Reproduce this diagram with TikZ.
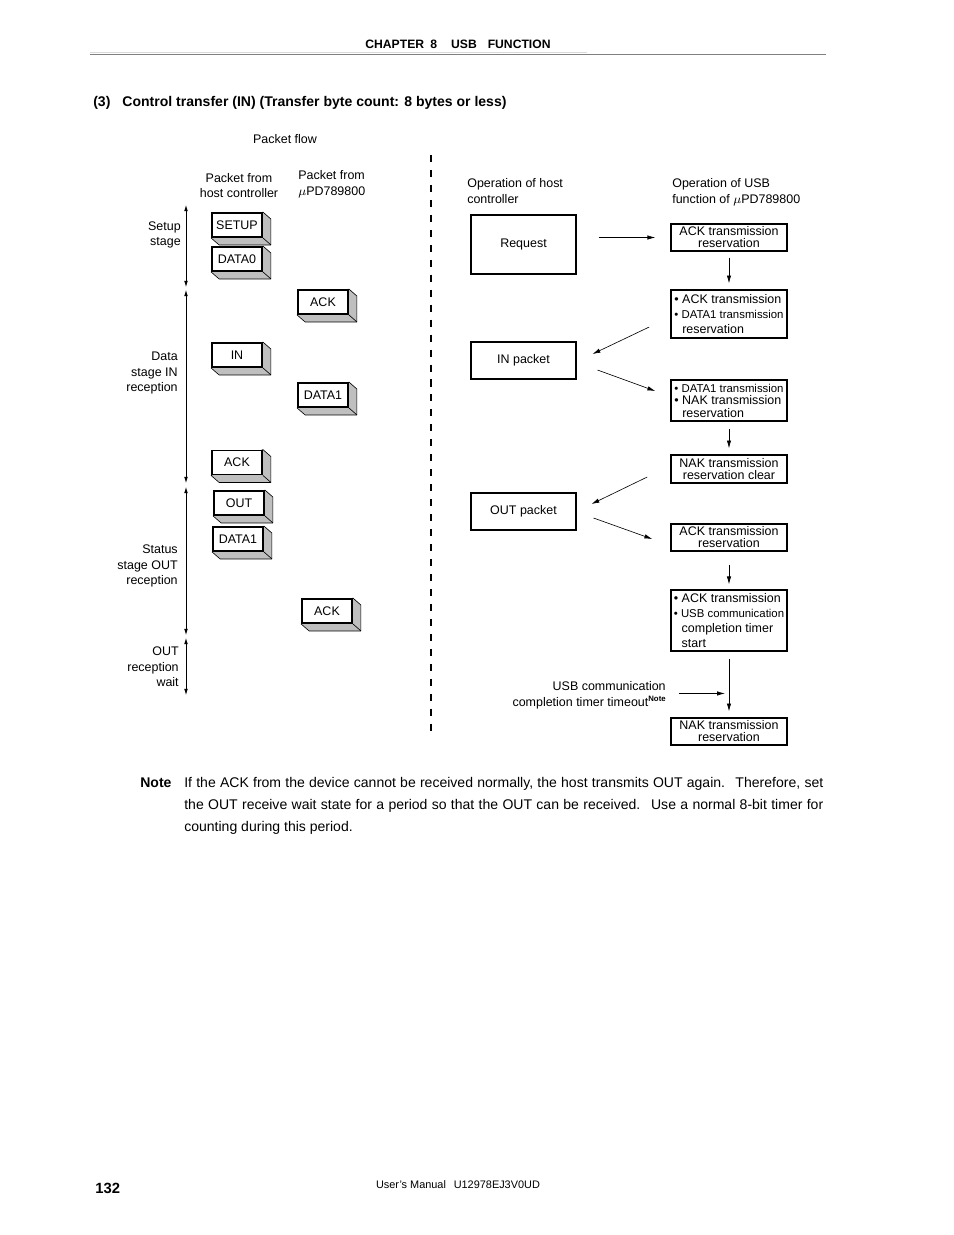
\documentclass[tikz,border=0pt]{standalone}
\usepackage{fontspec}
\setmainfont{Liberation Sans}
\usetikzlibrary{calc,arrows.meta}
\pgfdeclarelayer{background layer}
\pgfsetlayers{background layer,main}
\def\upx{0.6415pt}

\begin{document}
\begin{tikzpicture}[x=\upx,y=-\upx,
    flow/.style={-{Latex[length=5pt,width=2.8pt]},thin},
    stage/.style={{Latex[length=4pt,width=2.4pt]}-{Latex[length=4pt,width=2.4pt]},thin},
    txt/.style={font=\fontsize{8}{10}\selectfont,inner sep=0pt},
    pkt/.style={rectangle,draw=black,fill=white,line width=1.2pt,minimum width=50*\upx,minimum height=24*\upx,inner sep=0pt,font=\fontsize{8}{10}\selectfont},
    side/.style={draw=black,fill=lightgray,thin,line join=round},
    host/.style={rectangle,draw=black,line width=0.7pt,minimum width=105*\upx,inner sep=0pt,font=\fontsize{8}{10}\selectfont},
    dev/.style={rectangle,draw=black,line width=1pt,minimum width=116*\upx,inner sep=0pt,align=center,font=\fontsize{8}{7.7}\selectfont},
    bul/.style={dev,align=left,font=\fontsize{8}{9.6}\selectfont},
    divider/.style={line width=0.7pt,dash pattern=on 4.5pt off 5.1pt},
    note/.style={font=\fontsize{9}{11}\selectfont,inner sep=0pt,anchor=base west},
]
\useasboundingbox (0,0) rectangle (954,1235);

% page head
\node[font=\bfseries\fontsize{7.8}{9}\selectfont,inner sep=0pt,anchor=base] (chap) at (458,48) {CHAPTER\hspace{4pt}8\hspace{9pt}USB\hspace{7pt}FUNCTION};
\draw[gray!30,line width=1pt] (90,52.5) -- (587,52.5);
\draw[gray,line width=0.5pt] (90,54) -- (826,54);
\node[font=\bfseries\fontsize{9}{11}\selectfont,inner sep=0pt,anchor=base west] (title) at (93,106.5) {(3)\hspace{7.7pt}Control transfer (IN) (Transfer byte count: 8 bytes or less)};

% column heads
\node[txt] (flowhd) at (285,139.5) {Packet flow};
\node[txt,align=center] (hosthd) at (239,185.5) {Packet from\\host controller};
\node[txt,align=left,anchor=west] (devhd) at (298,184) {Packet from\\$\mu$PD789800};
\node[txt,align=left,anchor=west] (ophost) at (467,191) {Operation of host\\controller};
\node[txt,align=left,anchor=west] (opdev) at (672,192) {Operation of USB\\function of $\mu$PD789800};

% stages
\node[txt,align=right,anchor=east] (lsetup) at (181,235) {Setup\\stage};
\node[txt,align=right,anchor=east] (ldata) at (178,373) {Data\\stage IN\\reception};
\node[txt,align=right,anchor=east] (lstatus) at (178,566) {Status\\stage OUT\\reception};
\node[txt,align=right,anchor=east] (lwait) at (179,667) {OUT\\reception\\wait};
\coordinate (st0) at (186,205);
\coordinate (st1) at (186,287);
\coordinate (st2) at (186,290);
\coordinate (st3) at (186,483);
\coordinate (st4) at (186,487);
\coordinate (st5) at (186,635);
\coordinate (st6) at (186,638);
\coordinate (st7) at (186,695);
\foreach \a/\b in {st0/st1,st2/st3,st4/st5,st6/st7}
    \draw[stage] (\a) -- (\b);

% packets
\foreach \nm/\xx/\yy/\lb in {setup/237/225/SETUP, data0/237/259/DATA0, ackd1/323/302/ACK,
    inpk/237/355/IN, data1d/323/395/DATA1, ackh/237/462.5/ACK, outpk/239/503/OUT,
    data1h/238/539/DATA1, ackd2/327/611/ACK}{
    \node[pkt] (\nm) at (\xx,\yy) {\lb};
    \begin{pgfonlayer}{background layer}
        \draw[side] (\nm.north east) -- ++(8,7) -- ($(\nm.south east)+(8,7)$) -- ($(\nm.south west)+(8,7)$) -- (\nm.south west) -- cycle;
        \draw[thin] (\nm.south east) -- ++(8,7);
    \end{pgfonlayer}
}

% divider
\coordinate (dtop) at (431,155);
\coordinate (dbot) at (431,736);
\draw[divider] (dtop) -- (dbot);

% host controller
\node[host,minimum height=59*\upx] (req) at (523.5,244.5) {Request};
\node[host,minimum height=37*\upx] (inp) at (523.5,360.5) {IN packet};
\node[host,minimum height=37*\upx] (outp) at (523.5,511.5) {OUT packet};

% USB function
\node[dev,minimum height=27*\upx] (ackres) at (729,237.5) {ACK transmission\\reservation};
\node[bul,minimum height=48*\upx] (ackdata) at (729,314) {• ACK transmission\\{\fontsize{7.3}{9.6}\selectfont • DATA1 transmission}\\\phantom{•\ }reservation};
\node[bul,minimum height=41*\upx,font=\fontsize{8}{8}\selectfont] (datanak) at (729,400.5) {{\fontsize{7.3}{8}\selectfont • DATA1 transmission}\\• NAK transmission\\\phantom{•\ }reservation};
\node[dev,minimum height=28*\upx] (nakclr) at (729,469) {NAK transmission\\reservation clear};
\node[dev,minimum height=27*\upx] (ackres2) at (729,537.5) {ACK transmission\\reservation};
\node[bul,minimum height=61*\upx] (acktmr) at (729,620.5) {• ACK transmission\\{\fontsize{7.3}{9.6}\selectfont • USB communication}\\\phantom{•\ }completion timer\\\phantom{•\ }start};
\node[dev,minimum height=27*\upx] (nakres) at (729,731.5) {NAK transmission\\reservation};
\node[txt,align=right,anchor=east] (tmo) at (666,695) {USB communication\\completion timer timeout\raisebox{3pt}{\fontsize{5}{5}\bfseries\selectfont Note}};

% flow
\draw[flow,shorten <=14.1pt,shorten >=9.6pt] (req.east |- ackres.west) -- (ackres.west);
\draw[flow,shorten <=3.8pt,shorten >=3.8pt] (ackres) -- (ackdata);
\draw[flow] ($(ackdata.west)+(-21,13)$) -- ($(inp.east)+(16,-6.5)$);
\draw[flow] ($(inp.east)+(21,9.5)$) -- ($(datanak.west)+(-15,-9.5)$);
\draw[flow,shorten <=4.5pt,shorten >=3.8pt] (datanak) -- (nakclr);
\draw[flow] ($(nakclr.west)+(-23,8)$) -- ($(outp.east)+(15,-7.5)$);
\draw[flow] ($(outp.east)+(17,6.5)$) -- ($(ackres2.west)+(-18,1.5)$);
\draw[flow,shorten <=8.3pt,shorten >=3.2pt] (ackres2) -- (acktmr);
\draw[flow,shorten <=4.5pt,shorten >=3.8pt] (acktmr) -- (nakres);
\draw[flow,shorten <=8.3pt,shorten >=2.6pt] ([yshift=1pt]tmo.east) -- ([yshift=1pt]tmo.east -| acktmr.south);

% note
\node[note,font=\bfseries\fontsize{9}{11}\selectfont] (notehd) at (140,787) {Note};
\node[note] (note1) at (184,787) {\makebox[409.9pt][s]{If the ACK from the device cannot be received normally, the host transmits OUT again.~ Therefore, set}};
\node[note] (note2) at (184,809) {\makebox[409.9pt][s]{the OUT receive wait state for a period so that the OUT can be received.~ Use a normal 8-bit timer for}};
\node[note] (note3) at (184,831) {counting during this period.};

% page foot
\node[font=\bfseries\fontsize{9.5}{11}\selectfont,inner sep=0pt,anchor=base west] (pgno) at (95,1193) {132};
\node[font=\fontsize{7}{9}\selectfont,inner sep=0pt,anchor=base] (manual) at (458,1188) {User's Manual\hspace{5pt}U12978EJ3V0UD};
\end{tikzpicture}
\end{document}
